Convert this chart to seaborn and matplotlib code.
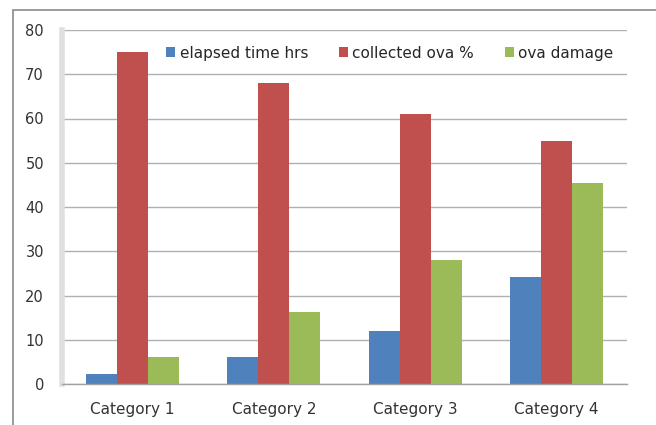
import pandas as pd
import seaborn as sns
import matplotlib.pyplot as plt
from matplotlib.patches import Rectangle

categories = ['Category 1', 'Category 2', 'Category 3', 'Category 4']
elapsed_time = [2.3, 6.1, 12.0, 24.2]
collected_ova = [75.0, 68.0, 61.0, 55.0]
ova_damage = [6.1, 16.3, 28.0, 45.4]
series_names = ['elapsed time hrs', 'collected ova %', 'ova damage']

df = pd.DataFrame({
    'category': categories * 3,
    'value': elapsed_time + collected_ova + ova_damage,
    'series': [s for s in series_names for _ in categories],
})

sns.set_style('white')
plt.rcParams['font.family'] = ['DejaVu Sans']

fig = plt.figure(figsize=(6.56, 4.25), dpi=100)
ax = fig.add_axes([62 / 656, 41 / 425, 565 / 656, 354 / 425])

palette = ['#4F81BD', '#C0504D', '#9BBB59']
sns.barplot(data=df, x='category', y='value', hue='series', palette=palette,
            width=0.66, gap=0, saturation=1, linewidth=0, ax=ax)

ax.set_ylim(0, 80)
ax.set_xlim(-0.5, 3.5)
ax.set_yticks(range(0, 81, 10))
ax.yaxis.grid(True, color='#b0b0b0', linewidth=1)
ax.set_axisbelow(True)
ax.set_xlabel('')
ax.set_ylabel('')

for side in ['top', 'right']:
    ax.spines[side].set_visible(False)
ax.spines['left'].set_color('#e0e0e0')
ax.spines['left'].set_linewidth(4)
ax.spines['bottom'].set_color('#a0a0a0')
ax.spines['bottom'].set_linewidth(1)

ax.tick_params(axis='x', which='major', length=0, labelsize=11, colors='#333333', pad=13)
ax.set_xticks([-0.5, 0.5, 1.5, 2.5, 3.5], minor=True)
ax.tick_params(axis='x', which='minor', length=5, color='#a0a0a0', direction='out')
ax.tick_params(axis='y', length=5, color='#b0b0b0', direction='out',
               labelsize=10.5, labelcolor='#333333', pad=8)

ax.legend(loc='center', bbox_to_anchor=(0.58, 0.935), ncol=3, frameon=False,
          fontsize=11, handlelength=0.6, handleheight=0.6, handletextpad=0.3,
          columnspacing=2.0)

# outer chart frame
fig.patches.append(Rectangle((13 / 656, -0.01), 1.0, (415 / 425) + 0.01,
                             transform=fig.transFigure, fill=False,
                             edgecolor='#8a8a8a', linewidth=1.2))

fig.savefig('out.png', dpi=100)
